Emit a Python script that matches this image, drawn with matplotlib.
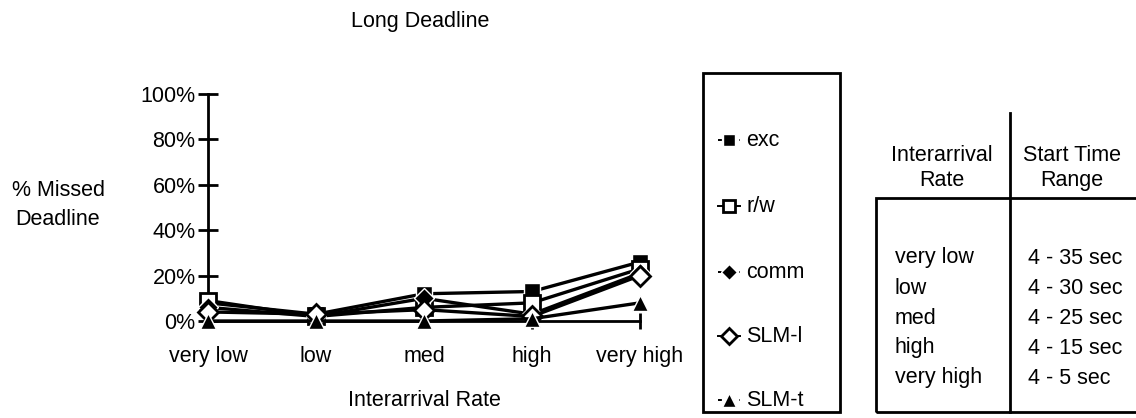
import numpy as np
import matplotlib
matplotlib.use("Agg")
import matplotlib.pyplot as plt
from matplotlib.lines import Line2D
from matplotlib.patches import Rectangle

plt.rcParams['font.family'] = ['Liberation Sans', 'DejaVu Sans']

categories = ["very low", "low", "med", "high", "very high"]
exc = [8, 3, 12, 13, 26]
rw = [9, 2, 6, 8, 23]
comm = [6, 2, 10, 3, 21]
slm_l = [4, 3, 5, 2, 20]
slm_t = [0, 0, 0, 1, 8]
yticks = [0, 20, 40, 60, 80, 100]

table_rates = ["very low", "low", "med", "high", "very high"]
table_ranges = ["4 - 35 sec", "4 - 30 sec", "4 - 25 sec", "4 - 15 sec", "4 - 5 sec"]

W, H = 1136, 418
FS = 15.5
fig = plt.figure(figsize=(W / 100, H / 100), dpi=100)

def fx(px):
    return px / W

def fy(py):
    return 1 - py / H

ax = fig.add_axes([fx(208), fy(321), fx(640) - fx(208), fy(94) - fy(321)])
x = np.arange(len(categories))

series = [
    ("exc", exc, dict(marker="s", mfc="black", mec="white", ms=11, mew=1.0)),
    ("r/w", rw, dict(marker="s", mfc="white", mec="black", ms=11, mew=2)),
    ("comm", comm, dict(marker="D", mfc="black", mec="white", ms=10, mew=1.0)),
    ("SLM-l", slm_l, dict(marker="D", mfc="white", mec="black", ms=10, mew=2)),
    ("SLM-t", slm_t, dict(marker="^", mfc="black", mec="white", ms=12, mew=1.0)),
]
for name, vals, st in series:
    ax.plot(x, vals, color="black", lw=2.4, clip_on=False, zorder=3, **st)

ax.set_xlim(0, 4)
ax.set_ylim(0, 100)
ax.set_xticks(x)
ax.set_xticklabels(categories)
ax.set_yticks(yticks)
ax.set_yticklabels([f"{v}%" for v in yticks])
for s in ["top", "right"]:
    ax.spines[s].set_visible(False)
for s in ["left", "bottom"]:
    ax.spines[s].set_linewidth(2)
ax.tick_params(axis="y", direction="inout", length=14, width=2, labelsize=FS, pad=2)
ax.tick_params(axis="x", direction="inout", length=12, width=2, labelsize=FS, pad=12)
ax.set_facecolor("none")

fig.text(fx(420), fy(22), "Long Deadline", ha="center", va="center", fontsize=FS)
fig.text(fx(58), fy(205), "% Missed\nDeadline", ha="center", va="center", fontsize=FS, linespacing=1.5)
fig.text(fx(424), fy(400), "Interarrival Rate", ha="center", va="center", fontsize=FS)

# legend box
fig.patches.append(Rectangle((fx(703), fy(412)), fx(840) - fx(703), fy(73) - fy(412),
                             transform=fig.transFigure, fill=False, lw=2, ec="black"))
leg_y = [140, 206, 272, 336, 400]
for (name, vals, st), py in zip(series, leg_y):
    st2 = dict(st)
    st2["ms"] = st["ms"] * 0.85
    fig.add_artist(Line2D([fx(718), fx(740)], [fy(py), fy(py)], color="black", lw=1.4,
                          ls=(0, (2, 3.5)) if name in ("exc", "comm", "SLM-t") else "-",
                          transform=fig.transFigure))
    fig.add_artist(Line2D([fx(729)], [fy(py)], color="black", transform=fig.transFigure, **st2))
    fig.text(fx(746), fy(py), name, ha="left", va="center", fontsize=FS)

# start-time table
fig.add_artist(Line2D([fx(1010), fx(1010)], [fy(113), fy(412)], color="black", lw=2,
                      transform=fig.transFigure))
fig.patches.append(Rectangle((fx(876), fy(412)), fx(1140) - fx(876), fy(198) - fy(412),
                             transform=fig.transFigure, fill=False, lw=2, ec="black"))
fig.text(fx(942), fy(168), "Interarrival\nRate", ha="center", va="center", fontsize=FS, linespacing=1.25)
fig.text(fx(1072), fy(168), "Start Time\nRange", ha="center", va="center", fontsize=FS, linespacing=1.25)
row_y = [258, 288, 318, 348, 378]
for rate, rng, py in zip(table_rates, table_ranges, row_y):
    fig.text(fx(895), fy(py), rate, ha="left", va="center", fontsize=FS)
    fig.text(fx(1028), fy(py), rng, ha="left", va="center", fontsize=FS)

fig.savefig("out.png", dpi=100)
